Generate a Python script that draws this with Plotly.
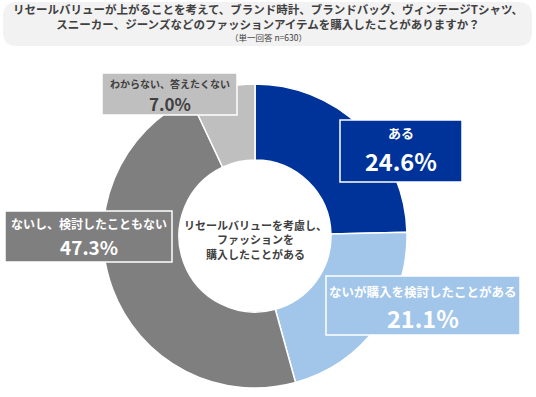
import plotly.graph_objects as go

W, H = 536, 397

categories = ["ある", "ないが購入を検討したことがある", "ないし、検討したこともない", "わからない、答えたくない"]
values = [24.6, 21.1, 47.3, 7.0]
colors = ["#003399", "#A2C6EA", "#7F7F7F", "#BFBFBF"]
label_text_colors = ["#FFFFFF", "#FFFFFF", "#FFFFFF", "#404040"]

title_line1 = "リセールバリューが上がることを考えて、ブランド時計、ブランドバッグ、ヴィンテージTシャツ、"
title_line2 = "スニーカー、ジーンズなどのファッションアイテムを購入したことがありますか？"
title_line3 = "（単一回答 n=630）"
center_lines = ["リセールバリューを考慮し、", "ファッションを", "購入したことがある"]

FONT = "Noto Sans CJK JP"


def px(x):
    return x / W


def py(y):
    return 1 - y / H


# pie geometry (pixels)
cx, cy, r = 255, 236, 152

fig = go.Figure(go.Pie(
    labels=categories,
    values=values,
    hole=0.5,
    sort=False,
    direction="clockwise",
    rotation=0,
    textinfo="none",
    hoverinfo="label+percent",
    marker=dict(colors=colors, line=dict(color="#FFFFFF", width=1.5)),
    domain=dict(x=[px(cx - r), px(cx + r)], y=[py(cy + r), py(cy - r)]),
    showlegend=False,
))

shapes = []
annotations = []

# title rounded box
x0, x1, y0, y1, rr = 3, 532, 2, 46, 14
path = (
    f"M {px(x0 + rr)} {py(y0)} L {px(x1 - rr)} {py(y0)} "
    f"Q {px(x1)} {py(y0)} {px(x1)} {py(y0 + rr)} "
    f"L {px(x1)} {py(y1 - rr)} Q {px(x1)} {py(y1)} {px(x1 - rr)} {py(y1)} "
    f"L {px(x0 + rr)} {py(y1)} Q {px(x0)} {py(y1)} {px(x0)} {py(y1 - rr)} "
    f"L {px(x0)} {py(y0 + rr)} Q {px(x0)} {py(y0)} {px(x0 + rr)} {py(y0)} Z"
)
shapes.append(dict(type="path", xref="paper", yref="paper", path=path,
                   fillcolor="#F2F2F2", line=dict(width=0), layer="below"))

annotations.append(dict(x=px(268), y=py(16.5), xref="paper", yref="paper",
                        text=f"<b>{title_line1}<br>{title_line2}</b>", showarrow=False,
                        font=dict(family=FONT, size=11.5, color="#404040"),
                        xanchor="center", yanchor="middle"))
annotations.append(dict(x=px(268), y=py(36.5), xref="paper", yref="paper",
                        text=title_line3, showarrow=False,
                        font=dict(family=FONT, size=8.5, color="#404040"),
                        xanchor="center", yanchor="middle"))

# center text
annotations.append(dict(x=px(cx), y=py(239), xref="paper", yref="paper",
                        text="<b>" + "<br>".join(center_lines) + "</b>", showarrow=False,
                        font=dict(family=FONT, size=11, color="#404040"),
                        xanchor="center", yanchor="middle"))

# callout boxes: (x0, y0, x1, y1, label y, pct y, label size, pct size)
boxes = [
    (340, 120, 462, 182, 132, 161, 13, 23.5),
    (326, 276, 520, 335, 291, 318, 12.5, 23.5),
    (5, 211, 172, 262, 223, 246, 12, 19),
    (102, 73, 237, 115, 84, 103, 10, 17),
]
for i, (bx0, by0, bx1, by1, ly, vy, ls, vs) in enumerate(boxes):
    shapes.append(dict(type="rect", xref="paper", yref="paper",
                       x0=px(bx0), x1=px(bx1), y0=py(by1), y1=py(by0),
                       fillcolor=colors[i], line=dict(color="#FFFFFF", width=1.5)))
    mx = px((bx0 + bx1) / 2)
    annotations.append(dict(x=mx, y=py(ly), xref="paper", yref="paper",
                            text=f"<b>{categories[i]}</b>", showarrow=False,
                            font=dict(family=FONT, size=ls, color=label_text_colors[i]),
                            xanchor="center", yanchor="middle"))
    annotations.append(dict(x=mx, y=py(vy), xref="paper", yref="paper",
                            text=f"<b>{values[i]:.1f}%</b>", showarrow=False,
                            font=dict(family=FONT, size=vs, color=label_text_colors[i]),
                            xanchor="center", yanchor="middle"))

fig.update_layout(
    width=W, height=H,
    margin=dict(l=0, r=0, t=0, b=0),
    paper_bgcolor="#FFFFFF",
    plot_bgcolor="#FFFFFF",
    shapes=shapes,
    annotations=annotations,
)

fig.write_html("out.html")
